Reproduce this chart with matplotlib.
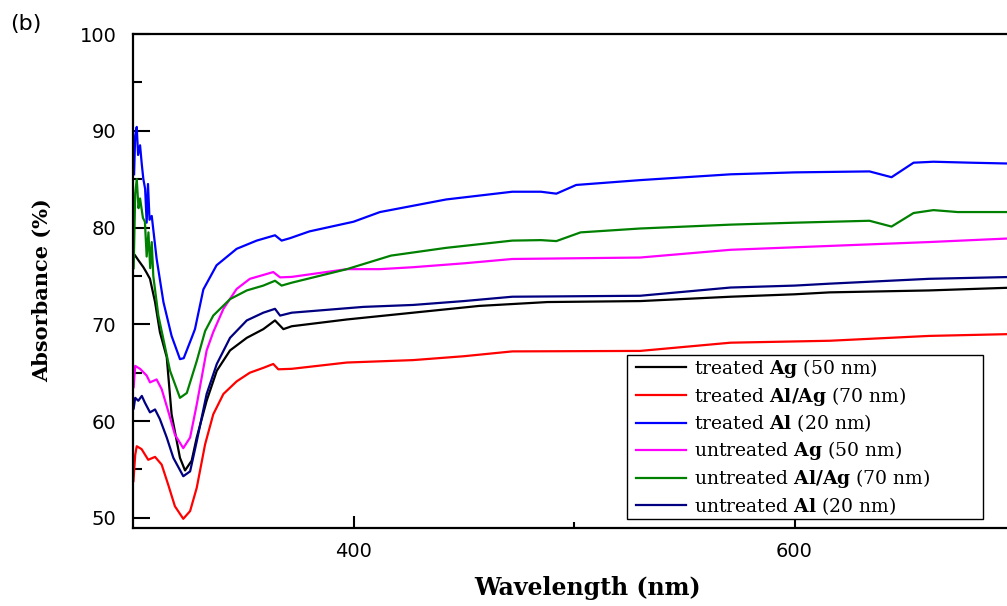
import matplotlib
matplotlib.use("Agg")
import matplotlib.pyplot as plt
from matplotlib.lines import Line2D
from matplotlib.legend_handler import HandlerLine2D
from matplotlib.ticker import FixedLocator, MultipleLocator

plt.rcParams['mathtext.fontset'] = 'dejavuserif'

# treated Ag (50 nm)
wl_t_ag = [300.3, 301, 302.5, 304.7, 306, 307.7, 310, 312.2, 315.3, 317.5, 321.3, 323.6, 326.6,
           328.9, 333.4, 338, 344, 351.6, 359.1, 364.4, 368.2, 372, 397, 427, 457, 488, 530,
           571, 600, 616, 661, 700]
ab_t_ag = [77.3, 77.1, 76.6, 75.9, 75.4, 74.7, 72.3, 69.2, 66.6, 60.7, 56.2, 54.9, 55.9,
           58.3, 62.1, 65.2, 67.3, 68.6, 69.5, 70.4, 69.5, 69.8, 70.5, 71.2, 71.9, 72.3, 72.4,
           72.85, 73.1, 73.3, 73.5, 73.8]

# treated Al/Ag (70 nm)
wl_t_alag = [300.2, 301, 301.7, 303.9, 306.9, 310, 313, 316, 319, 322.8, 325.9, 328.9, 332.7,
             336.4, 341, 347, 353, 359.1, 363.6, 365.9, 372, 397, 427, 450, 472, 530, 571,
             616, 661, 700]
ab_t_alag = [53.8, 56.5, 57.4, 57.1, 56.0, 56.3, 55.5, 53.4, 51.2, 49.9, 50.7, 53.1, 57.6,
             60.7, 62.8, 64.1, 65.0, 65.5, 65.9, 65.35, 65.4, 66.05, 66.3, 66.7, 67.2, 67.25, 68.1,
             68.3, 68.8, 69.0]

# treated Al (20 nm)
wl_t_al = [300.5, 301, 301.7, 302.3, 303.2, 304, 304.7, 305.5, 306.2, 306.8, 307.5, 308.5, 310.7,
           313.8, 317.5, 321.3, 323, 326.6, 328.1, 331.9, 337.9, 347, 356.1, 364.4, 367.4, 371.2,
           380, 400, 412, 442, 472, 485, 492, 501, 530, 571, 600, 634, 644, 654, 663, 680, 700]
ab_t_al = [85.5, 89.5, 90.4, 87.5, 88.5, 86.5, 85.0, 84.0, 80.5, 84.5, 80.8, 81.2, 76.8,
           72.3, 68.8, 66.4, 66.5, 68.6, 69.5, 73.6, 76.1, 77.8, 78.65, 79.2, 78.65, 78.9,
           79.6, 80.6, 81.6, 82.9, 83.7, 83.7, 83.5, 84.4, 84.9, 85.5, 85.7, 85.8, 85.2, 86.7,
           86.8, 86.7, 86.6]

# untreated Ag (50 nm)
wl_u_ag = [300.3, 301, 303.2, 306.2, 307.7, 310.7, 313, 316, 319, 322.8, 325.9, 328.9, 333.4,
           336.4, 341, 347, 353, 359.1, 363.6, 366.7, 372, 397, 412, 427, 450, 472, 530, 571,
           616, 661, 700]
ab_u_ag = [63.5, 65.7, 65.4, 64.7, 64.0, 64.3, 63.3, 61.0, 58.6, 57.2, 58.3, 61.7, 67.3,
           69.2, 71.6, 73.65, 74.7, 75.1, 75.4, 74.85, 74.9, 75.7, 75.7, 75.9, 76.3, 76.75, 76.9,
           77.7, 78.1, 78.5, 78.9]

# untreated Al/Ag (70 nm)
wl_u_alag = [300.3, 301, 301.7, 302.5, 303.2, 304.5, 305.4, 306.2, 307, 307.8, 308.5, 309.2,
             311.5, 313, 316.8, 321.3, 324.4, 328.9, 332.7, 336.4, 344, 351.6, 359.1, 364.4,
             367.4, 372, 397, 417, 442, 472, 485, 492, 503, 530, 571, 600, 634, 644, 654, 663,
             674, 700]
ab_u_alag = [75.8, 83.5, 85.0, 82.0, 83.0, 81.0, 80.6, 77.0, 79.5, 75.8, 78.5, 75.0,
             70.9, 69.3, 65.2, 62.4, 62.9, 66.2, 69.3, 70.9, 72.6, 73.5, 74.0, 74.5,
             74.0, 74.3, 75.7, 77.1, 77.9, 78.65, 78.7, 78.6, 79.5, 79.9, 80.3, 80.5, 80.7,
             80.1, 81.5, 81.8, 81.6, 81.6]

# untreated Al (20 nm)
wl_u_al = [300.3, 301, 302.4, 304, 305.4, 307.7, 310, 312.2, 315.3, 318.3, 322.8, 325.9, 328.9,
           333.4, 338, 344, 351.6, 359.1, 364.4, 366.7, 372, 404.5, 427, 450, 472, 530, 571,
           600, 616, 661, 700]
ab_u_al = [61.3, 62.4, 62.1, 62.6, 61.9, 60.9, 61.2, 60.2, 58.3, 56.2, 54.3, 54.8, 57.9,
           62.8, 65.9, 68.6, 70.4, 71.2, 71.6, 70.9, 71.2, 71.8, 72.0, 72.4, 72.85, 72.95, 73.8,
           74.0, 74.2, 74.7, 74.9]

fig = plt.figure(figsize=(10.07, 6.06), dpi=100)
# axes run past the right edge, as in the cropped original
ax = fig.add_axes([133 / 1007, 78 / 606, 1102.5 / 1007, 494 / 606])

ax.plot(wl_t_ag, ab_t_ag, color='black', lw=1.6, label=r'treated $\mathbf{Ag}$ (50 nm)')
ax.plot(wl_t_alag, ab_t_alag, color='#ff0000', lw=1.6, label=r'treated $\mathbf{Al/Ag}$ (70 nm)')
ax.plot(wl_t_al, ab_t_al, color='#0000ff', lw=1.6, label=r'treated $\mathbf{Al}$ (20 nm)')
ax.plot(wl_u_ag, ab_u_ag, color='#ff00ff', lw=1.6, label=r'untreated $\mathbf{Ag}$ (50 nm)')
ax.plot(wl_u_alag, ab_u_alag, color='#008000', lw=1.6, label=r'untreated $\mathbf{Al/Ag}$ (70 nm)')
ax.plot(wl_u_al, ab_u_al, color='#000080', lw=1.6, label=r'untreated $\mathbf{Al}$ (20 nm)')

ax.set_xlim(300, 800)
ax.set_ylim(48.95, 100)
ax.xaxis.set_major_locator(FixedLocator([400, 600]))
ax.xaxis.set_minor_locator(FixedLocator([500, 700]))
ax.yaxis.set_major_locator(MultipleLocator(10))
ax.yaxis.set_minor_locator(MultipleLocator(5))

for s in ax.spines.values():
    s.set_linewidth(1.6)
ax.spines['right'].set_visible(False)

ax.tick_params(axis='y', which='major', direction='in', length=12, width=1.5, pad=12, labelsize=14)
ax.tick_params(axis='y', which='minor', direction='in', length=6.5, width=1.5)
ax.tick_params(axis='x', which='major', direction='in', length=8.5, width=1.5, pad=10, labelsize=14)
ax.tick_params(axis='x', which='minor', direction='in', length=4, width=1.5)

leg = ax.legend(loc='lower left', bbox_to_anchor=(0.448, 0.018, 0.323, 0.33), mode='expand',
                borderaxespad=0, fancybox=False, framealpha=1, edgecolor='black',
                prop={'family': 'DejaVu Serif', 'size': 13.5}, handlelength=3.05,
                handletextpad=0.4, labelspacing=0.26, borderpad=0.12,
                handler_map={Line2D: HandlerLine2D(xpad=0.35)})
leg.get_frame().set_linewidth(1.0)

fig.text(588 / 1007, 1 - 588 / 606, 'Wavelength (nm)', family='DejaVu Serif', weight='bold',
         fontsize=17, ha='center', va='center')
fig.text(42 / 1007, 1 - 290 / 606, 'Absorbance (%)', family='DejaVu Serif', weight='bold',
         fontsize=15, rotation=90, ha='center', va='center')
fig.text(10 / 1007, 1 - 24 / 606, '(b)', fontsize=16, ha='left', va='center')

fig.savefig('out.png', dpi=100)
